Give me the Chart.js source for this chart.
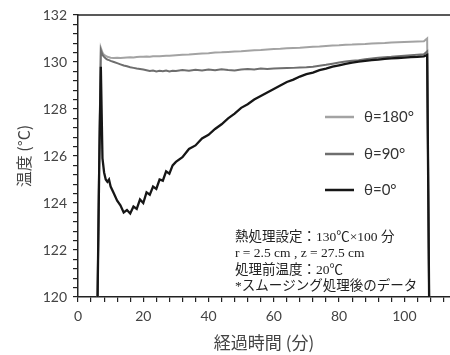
<!DOCTYPE html>
<html>
<head>
<meta charset="utf-8">
<script src="https://cdn.jsdelivr.net/npm/chart.js@4/dist/chart.umd.min.js"></script>
<style>
  html, body { margin: 0; padding: 0; background: #fff; }
  #wrap { width: 450px; height: 355px; }
</style>
</head>
<body>
<div id="wrap"><canvas id="tempChart" width="450" height="355"></canvas></div>
<script>
// 経過時間 (分)
const minutes = [
  6, 6.5, 7, 7.5, 8, 8.5, 9, 9.5, 10,
  11, 12, 13, 14, 15, 16, 17, 18, 19, 20,
  21, 22, 23, 24, 25, 26, 27, 28, 29, 30,
  32, 34, 36, 38, 40, 42, 44, 46, 48, 50,
  52, 54, 56, 58, 60, 62, 64, 66, 68, 70,
  72, 74, 76, 78, 80, 82, 84, 86, 88, 90,
  92, 94, 96, 98, 100, 102, 104, 106, 107, 107.6
];

// 温度 (°C)
const theta0 = [
  120, 125.5, 129.8, 125.9, 125.3, 125.0, 124.9, 125.0, 124.7,
  124.4, 124.1, 123.9, 123.6, 123.7, 123.55, 123.85, 123.75, 124.15, 124.0,
  124.45, 124.35, 124.7, 124.6, 125.0, 124.95, 125.35, 125.25, 125.6, 125.75,
  125.95, 126.3, 126.45, 126.75, 126.9, 127.15, 127.35, 127.6, 127.8, 128.05,
  128.2, 128.4, 128.55, 128.7, 128.85, 129.0, 129.15, 129.25, 129.38, 129.48,
  129.55, 129.65, 129.72, 129.8, 129.86, 129.92, 129.97, 130.02, 130.05, 130.08,
  130.1, 130.13, 130.15, 130.17, 130.19, 130.21, 130.22, 130.24, 130.3, 120
];

const theta90 = [
  120, 126, 130.5, 130.3, 130.22, 130.15, 130.1, 130.08, 130.05,
  130.0, 129.95, 129.9, 129.85, 129.82, 129.78, 129.75, 129.72, 129.7, 129.68,
  129.65, 129.62, 129.64, 129.6, 129.63, 129.61, 129.64, 129.6, 129.63, 129.62,
  129.66, 129.63, 129.67, 129.64, 129.68, 129.65, 129.69, 129.66, 129.64, 129.68,
  129.7, 129.68, 129.72, 129.7, 129.72, 129.73, 129.74, 129.75, 129.77, 129.78,
  129.8, 129.84, 129.88, 129.93, 129.98, 130.02, 130.05, 130.08, 130.12, 130.15,
  130.18, 130.2, 130.22, 130.25, 130.27, 130.29, 130.31, 130.33, 130.45, 120
];

const theta180 = [
  120, 126, 130.6, 130.4, 130.3, 130.26, 130.22, 130.2, 130.18,
  130.17, 130.18, 130.17, 130.18, 130.19, 130.2, 130.19, 130.21, 130.22, 130.22,
  130.23, 130.22, 130.24, 130.25, 130.25, 130.26, 130.27, 130.27, 130.28, 130.29,
  130.31, 130.32, 130.34, 130.36, 130.37, 130.4, 130.41, 130.43, 130.45, 130.46,
  130.48, 130.5, 130.51, 130.53, 130.55, 130.56, 130.58, 130.6, 130.61, 130.63,
  130.65, 130.66, 130.68, 130.7, 130.71, 130.73, 130.74, 130.76, 130.77, 130.79,
  130.8, 130.81, 130.83, 130.84, 130.85, 130.86, 130.87, 130.88, 131.0, 120
];

const seriesLabels = ['θ=180°', 'θ=90°', 'θ=0°'];
const seriesColors = ['#a3a3a3', '#6e6e6e', '#161616'];

const noteLines = [
  '熱処理設定：130℃×100 分',
  'r = 2.5 cm , z = 27.5 cm',
  '処理前温度：20℃',
  '*スムージング処理後のデータ'
];

const toPoints = vals => vals.map((v, i) => ({ x: minutes[i], y: v }));

// 凡例と注記はグラフ内に直接描く
const overlay = {
  id: 'overlay',
  afterDraw(chart) {
    const { ctx, chartArea } = chart;
    ctx.save();
    // 上枠線
    ctx.strokeStyle = '#222';
    ctx.lineWidth = 1.5;
    ctx.beginPath();
    ctx.moveTo(chartArea.left, chartArea.top);
    ctx.lineTo(chartArea.right, chartArea.top);
    ctx.stroke();

    // 凡例
    const legendY = [117, 154, 190];
    ctx.font = '15px Lato, "Noto Sans", sans-serif';
    ctx.textBaseline = 'middle';
    seriesLabels.forEach((lab, i) => {
      ctx.strokeStyle = seriesColors[i];
      ctx.lineWidth = 2.5;
      ctx.beginPath();
      ctx.moveTo(325, legendY[i]);
      ctx.lineTo(354, legendY[i]);
      ctx.stroke();
      ctx.fillStyle = '#333';
      ctx.fillText(lab, 364, legendY[i]);
    });

    // 注記
    ctx.font = '13.5px "Liberation Serif", "Noto Sans CJK JP", serif';
    ctx.fillStyle = '#222';
    noteLines.forEach((line, i) => {
      ctx.fillText(line, 235, 237 + i * 16.5);
    });
    ctx.restore();
  }
};

new Chart(document.getElementById('tempChart'), {
  type: 'line',
  data: {
    datasets: [
      { label: seriesLabels[2], data: toPoints(theta0), borderColor: seriesColors[2], borderWidth: 2.3 },
      { label: seriesLabels[1], data: toPoints(theta90), borderColor: seriesColors[1], borderWidth: 2 },
      { label: seriesLabels[0], data: toPoints(theta180), borderColor: seriesColors[0], borderWidth: 2 }
    ]
  },
  options: {
    responsive: false,
    animation: false,
    elements: { point: { radius: 0 }, line: { tension: 0 } },
    layout: { padding: { left: 14, top: 15, right: 0, bottom: 0 } },
    plugins: { legend: { display: false }, tooltip: { enabled: false } },
    scales: {
      x: {
        type: 'linear',
        min: 0,
        max: 114,
        afterFit: s => { s.height = 58; },
        border: { color: '#222', width: 1.5 },
        grid: { drawOnChartArea: false, color: '#222', tickLength: 5, lineWidth: 1.2 },
        ticks: {
          stepSize: 4,
          autoSkip: false,
          includeBounds: false,
          maxRotation: 0,
          padding: 6,
          color: '#444',
          font: { family: 'Lato, "Noto Sans", sans-serif', size: 14 },
          callback: v => (Math.abs(v / 20 - Math.round(v / 20)) < 1e-6 ? Math.round(v) : '')
        },
        title: {
          display: true,
          text: '経過時間 (分)',
          color: '#444',
          font: { family: '"Noto Sans CJK JP", sans-serif', size: 17 },
          padding: { top: 0, bottom: 2 }
        }
      },
      y: {
        min: 120,
        max: 132,
        afterFit: s => { s.width = 64; },
        border: { color: '#222', width: 1.5 },
        grid: { drawOnChartArea: false, color: '#222', tickLength: 5, lineWidth: 1.2 },
        ticks: {
          stepSize: 0.4,
          autoSkip: false,
          padding: 6,
          color: '#444',
          font: { family: 'Lato, "Noto Sans", sans-serif', size: 14 },
          callback: v => (Math.abs(v / 2 - Math.round(v / 2)) < 1e-6 ? Math.round(v) : '')
        },
        title: {
          display: true,
          text: '温度 (°C)',
          color: '#444',
          font: { family: '"Noto Sans CJK JP", sans-serif', size: 16 },
          padding: { top: 0, bottom: 0 }
        }
      }
    }
  },
  plugins: [overlay]
});
</script>
</body>
</html>
